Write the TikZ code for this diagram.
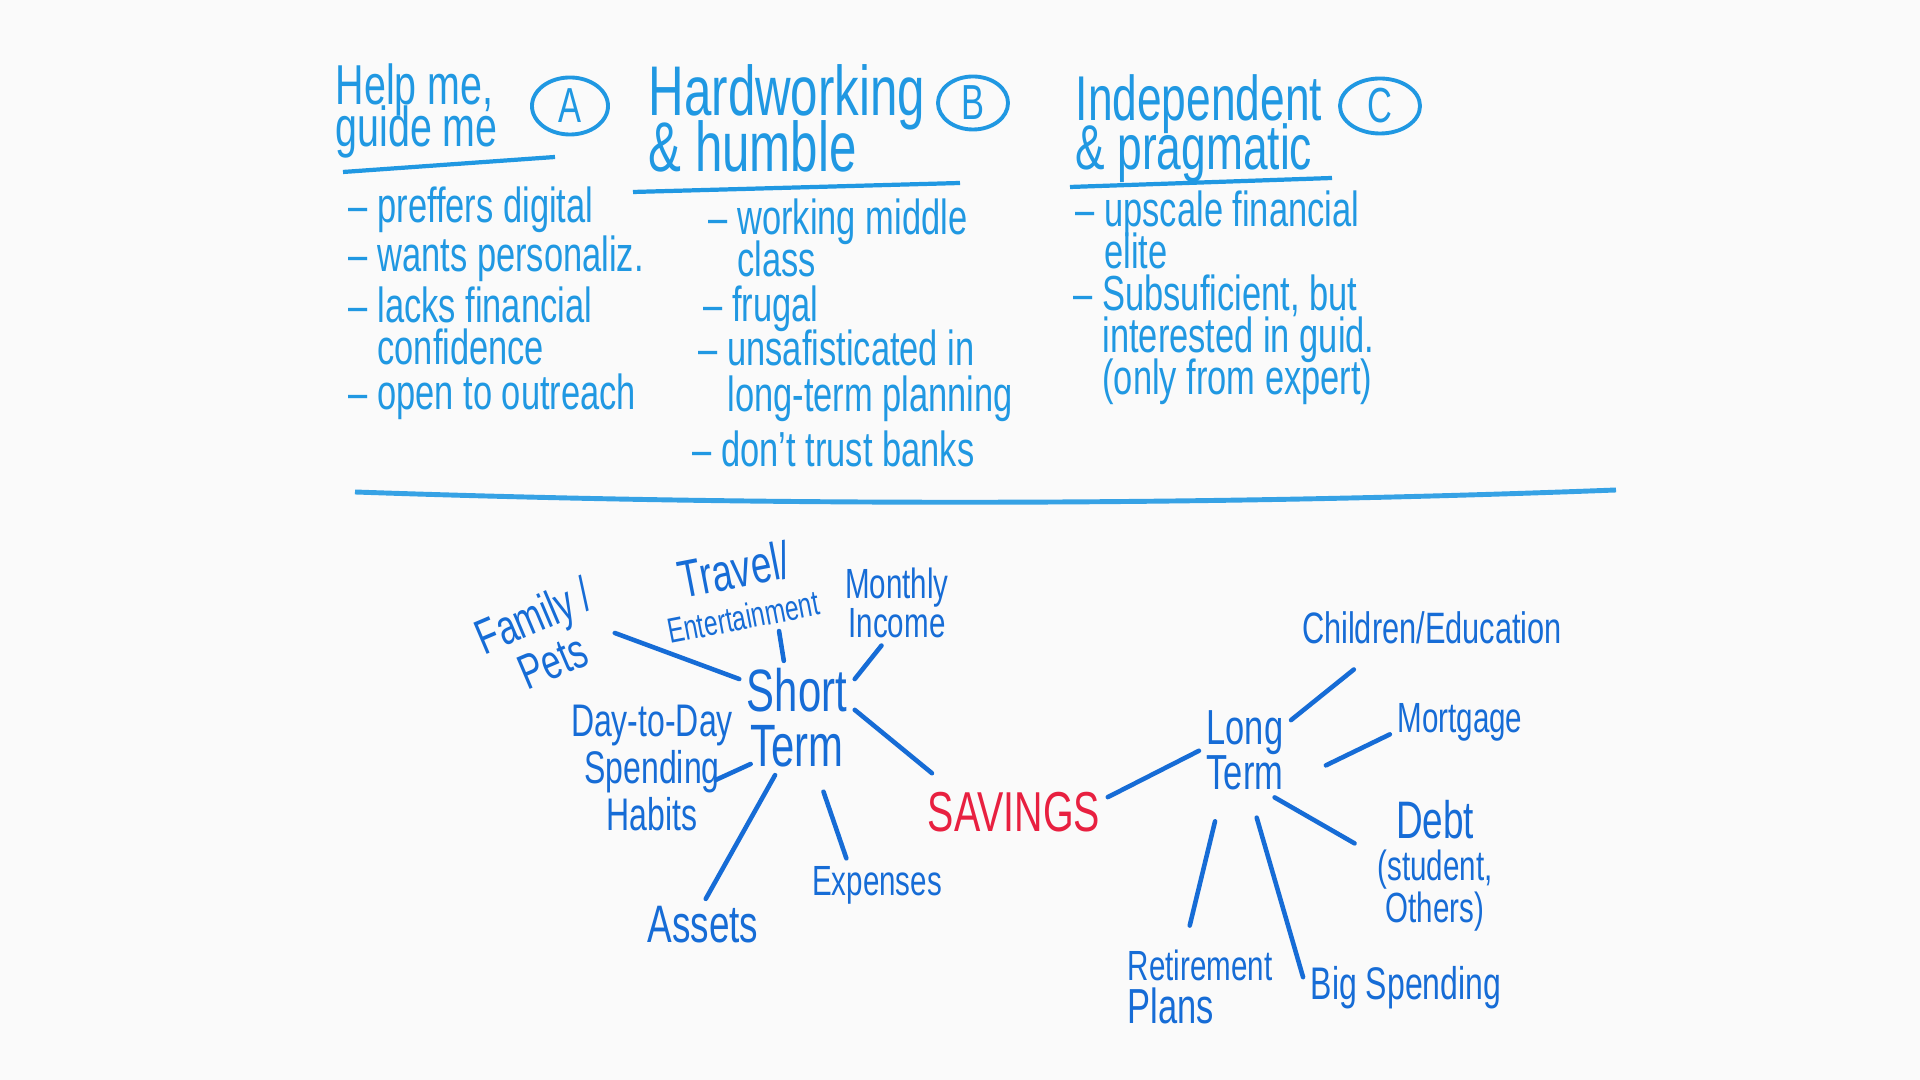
\documentclass[tikz,border=0pt]{standalone}
\usepackage{fontspec}
\setmainfont{Liberation Sans}[FakeStretch=0.7]
\usetikzlibrary{shapes.geometric}
\definecolor{board}{RGB}{250,250,250}
\definecolor{boardink}{RGB}{32,152,226}
\definecolor{mapink}{RGB}{22,108,214}
\definecolor{saveink}{RGB}{232,32,64}
\newcommand{\inksize}[2]{\fontsize{#1}{#2}\selectfont\lineskiplimit=-50pt\relax}
\newcommand{\dashgap}{\hphantom{– }}

\begin{document}
\begin{tikzpicture}[x=0.01cm, y=-0.01cm,
    title/.style={text=boardink, align=left, anchor=base west, inner sep=0pt},
    bullet/.style={text=boardink, align=left, anchor=base west, inner sep=0pt, font=\inksize{14}{12}},
    letter/.style={ellipse, draw=boardink, text=boardink, line width=1.1pt, inner sep=0pt, font=\inksize{14}{14}},
    rule/.style={draw=boardink, line width=1.2pt},
    topic/.style={text=mapink, align=center, inner sep=2pt},
    spoke/.style={draw=mapink, line width=1.3pt, line cap=round}]

    \fill[board] (0,0) rectangle (1920,1080);
    \useasboundingbox (0,0) rectangle (1920,1080);

    % the three customer groups (base = last line)
    \node[title, font=\inksize{16}{12}] (titleA) at (335,147) {Help me,\\guide me};
    \node[letter, minimum width=0.76cm, minimum height=0.57cm] (circA) at (570,106) {A};
    \node[title, font=\inksize{20}{16}] (titleB) at (648,172) {Hardworking\\\& humble};
    \node[letter, minimum width=0.70cm, minimum height=0.53cm] (circB) at (973,103) {B};
    \node[title, font=\inksize{18}{14}] (titleC) at (1075,170) {Independent\\\& pragmatic};
    \node[letter, minimum width=0.80cm, minimum height=0.55cm] (circC) at (1380,106) {C};

    \coordinate (ulineA1) at (343,172);
    \coordinate (ulineA2) at (555,157);
    \coordinate (ulineB1) at (633,192);
    \coordinate (ulineB2) at (960,183);
    \coordinate (ulineC1) at (1070,187);
    \coordinate (ulineC2) at (1332,178);
    \draw[rule] (ulineA1) -- (ulineA2);
    \draw[rule] (ulineB1) -- (ulineB2);
    \draw[rule] (ulineC1) -- (ulineC2);

    \node[bullet] (bulletA1) at (348,223) {– preffers digital};
    \node[bullet] (bulletA2) at (348,272) {– wants personaliz.};
    \node[bullet] (bulletA3) at (348,365) {– lacks financial\\\dashgap confidence};
    \node[bullet] (bulletA4) at (348,410) {– open to outreach};

    \node[bullet] (bulletB1) at (708,277) {– working middle\\\dashgap class};
    \node[bullet] (bulletB2) at (703,322) {– frugal};
    \node[bullet, font=\inksize{14}{13.2}] (bulletB3) at (698,412) {– unsafisticated in\\\dashgap long-term planning};
    \node[bullet] (bulletB4) at (692,467) {– don't trust banks};

    \node[bullet] (bulletC1) at (1075,269) {– upscale financial\\\dashgap elite};
    \node[bullet] (bulletC2) at (1073,395) {– Subsuficient, but\\\dashgap interested in guid.\\\dashgap (only from expert)};

    % divider
    \coordinate (divL) at (355,492);
    \coordinate (divR) at (1616,490);
    \draw[draw=boardink!90!white, line width=1.4pt] (divL) .. controls (760,506) and (1200,506) .. (divR);

    % savings map
    \node[topic, font=\inksize{17}{15.6}] (short) at (797,718) {Short\\Term};
    \node[topic, font=\inksize{14}{14}, rotate=23] (fam) at (543,638) {Family /\\Pets};
    \node[topic, rotate=11] (travel) at (738,590) {{\inksize{15}{12}Travel/}\\{\inksize{10}{11}Entertainment}};
    \node[topic, font=\inksize{12}{11}] (month) at (897,603) {Monthly\\Income};
    \node[topic, font=\inksize{13}{13.4}] (day) at (652,768) {Day-to-Day\\Spending\\Habits};
    \node[topic, font=\inksize{15}{15}] (assets) at (703,925) {Assets};
    \node[topic, font=\inksize{12}{12}] (exp) at (877,885) {Expenses};
    \node[topic, text=saveink, font=\inksize{16}{16}] (sav) at (1014,812) {SAVINGS};

    \node[topic, font=\inksize{14}{12.8}] (long) at (1245,750) {Long\\Term};
    \node[topic, font=\inksize{12.5}{12.5}] (child) at (1432,628) {Children/Education};
    \node[topic, font=\inksize{12}{12}] (mort) at (1460,722) {Mortgage};
    \node[topic] (debt) at (1435,866) {{\inksize{15}{12}Debt}\\{\inksize{12}{11}(student,}\\{\inksize{12}{9}Others)}};
    \node[topic, align=left] (ret) at (1200,987) {{\inksize{12}{12}Retirement}\\{\inksize{14}{13}Plans}};
    \node[topic, font=\inksize{13}{13}] (big) at (1406,988) {Big Spending};

    \draw[spoke] (short.146) -- (fam.-19);
    \draw[spoke] (short.103) -- (travel.-56);
    \draw[spoke] (short.34) -- (month.250);
    \draw[spoke] ([shift={(10,-4)}]day.east) -- ([shift={(-25,12)}]day.east);
    \draw[spoke] (short.249) -- (assets.84);
    \draw[spoke, shorten <=5pt] (short.290) -- (exp.139);
    \draw[spoke, shorten >=5pt] (short.8) -- (sav.158);
    \draw[spoke] (sav.9) -- (long.181);
    \draw[spoke, shorten >=8pt] (long.33) -- (child.203);
    \draw[spoke, shorten <=11pt] (long.-35) -- (mort.190);
    \draw[spoke, shorten >=5pt] (long.-58) -- (debt.168);
    \draw[spoke, shorten <=7pt, shorten >=5pt] (long.243) -- (ret.108);
    \draw[spoke, shorten <=6pt] (long.277) -- (big.174);
\end{tikzpicture}
\end{document}
